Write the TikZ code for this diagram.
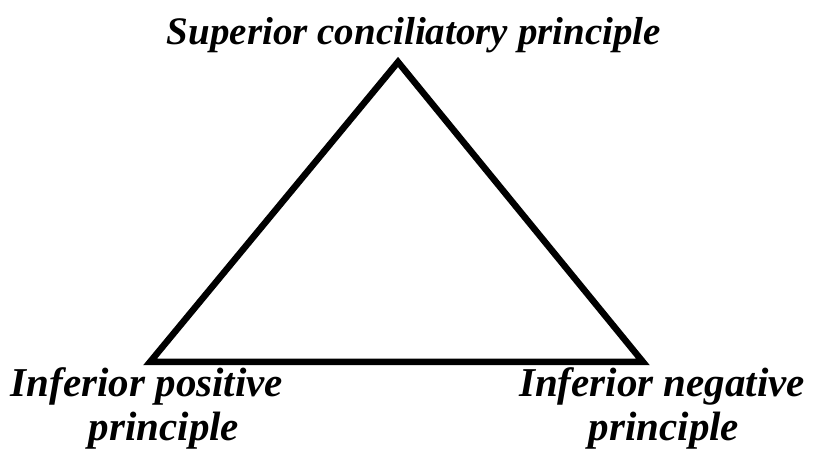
\documentclass[tikz,border=0pt]{standalone}
\usepackage{fontspec}
\setmainfont{Liberation Serif}
\begin{document}
\begin{tikzpicture}[x=1pt,y=-1pt,
  lbl/.style={inner sep=0pt,anchor=base,font=\fontsize{39}{44}\selectfont\bfseries\itshape},
  lblb/.style={lbl,font=\fontsize{41}{46}\selectfont\bfseries\itshape},
  tri/.style={line width=6.5pt,line join=miter}]
\useasboundingbox (0,0) rectangle (828,454);
\coordinate (A) at (398,62);
\coordinate (B) at (150,362);
\coordinate (C) at (643,362);
\draw[tri] (A) -- (B) -- (C) -- cycle;
\node[lbl] (top) at (414,45) {Superior conciliatory principle};
\node[lblb] (l1) at (147,397) {Inferior positive};
\node[lblb] (l2) at (164,440) {principle};
\node[lblb] (r1) at (662,397) {Inferior negative};
\node[lblb] (r2) at (664,441) {principle};
\end{tikzpicture}
\end{document}
